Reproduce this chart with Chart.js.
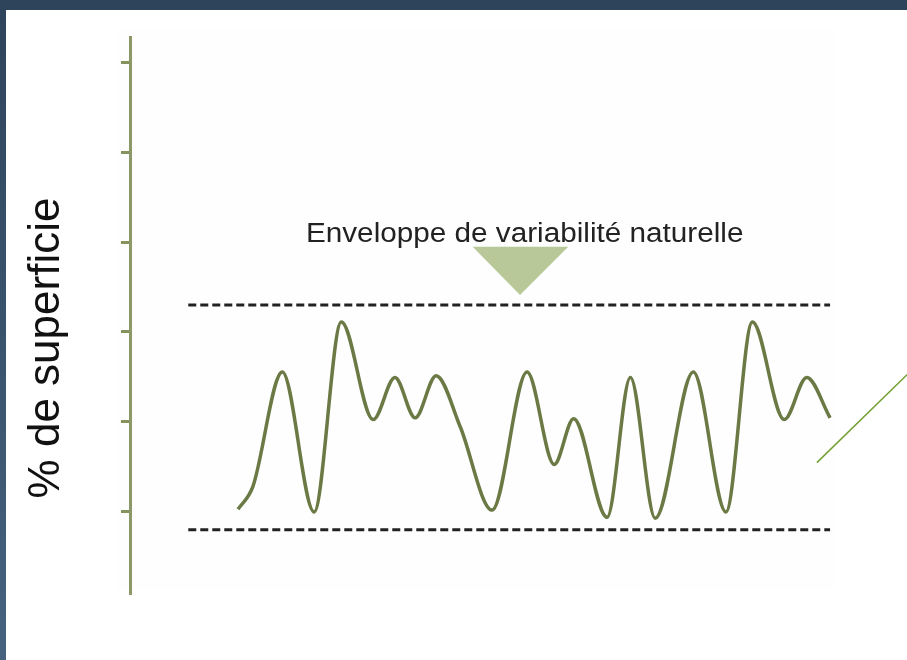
<!DOCTYPE html>
<html>
<head>
<meta charset="utf-8">
<script src="https://cdn.jsdelivr.net/npm/chart.js@4.4.1/dist/chart.umd.min.js"></script>
<style>
  html, body { margin: 0; padding: 0; background: #fff; }
  #wrap { position: relative; width: 907px; height: 660px; overflow: hidden; }
  #plotBg { position: absolute; left: 116px; top: 30px; width: 718px; height: 560px; background: #fefefe; }
  #frameTop { position: absolute; left: 0; top: 0; width: 907px; height: 10px; background: #2e445b; }
  #frameLeft { position: absolute; left: 0; top: 0; width: 6px; height: 660px; background: linear-gradient(#2e445b, #46627f); }
  canvas { position: absolute; left: 0; top: 0; }
</style>
</head>
<body>
<div id="wrap">
  <div id="plotBg"></div>
  <canvas id="chart" width="907" height="660"></canvas>
  <div id="frameTop"></div>
  <div id="frameLeft"></div>
</div>
<script>
  // y axis: tick marks only, no labels
  const yTicks = [1, 2, 3, 4, 5, 6];
  const yTitle = '% de superficie';

  // the fluctuating % of area over time (peaks and troughs)
  const waveX = [13.9, 15.8, 19.6, 23.7, 27.2, 31.3, 34.1, 36.7, 39.4, 42.5, 46.6, 51.1, 54.6, 57.1, 61.4, 64.4, 67.6, 72.5, 76.7, 80.1, 84.2, 87.1, 90.1];
  const waveY = [1.02, 1.27, 2.55, 0.99, 3.11, 2.02, 2.49, 2.04, 2.51, 1.94, 1.01, 2.55, 1.52, 2.03, 0.93, 2.49, 0.92, 2.55, 0.99, 3.11, 2.02, 2.49, 2.04];

  // natural variability envelope (dashed limits)
  const envelopeX = [7.5, 90.1];
  const envelopeTop = [3.30, 3.30];
  const envelopeBottom = [0.79, 0.79];

  // arrow + label above the envelope
  const arrowX = [44.1, 56.4, 50.2];
  const arrowY = [3.95, 3.95, 3.41];
  const labelText = 'Enveloppe de variabilité naturelle';
  const labelX = 50.8;
  const labelY = 4.0;

  // thin callout line on the right
  const pointerX = [88.4, 100];
  const pointerY = [1.54, 2.52];

  const pts = (xs, ys) => xs.map((x, i) => ({ x: x, y: ys[i] }));

  const textPlugin = {
    id: 'texts',
    afterDatasetsDraw(chart) {
      const ctx = chart.ctx;
      const xs = chart.scales.x, ys = chart.scales.y;
      ctx.save();
      // label is a bit wide for its height in the original, stretch it slightly
      ctx.translate(xs.getPixelForValue(labelX), ys.getPixelForValue(labelY));
      ctx.scale(1.1, 1);
      ctx.fillStyle = '#222';
      ctx.font = '27px "Liberation Sans", Arial, sans-serif';
      ctx.textAlign = 'center';
      ctx.textBaseline = 'alphabetic';
      ctx.fillText(labelText, 0, 0);
      ctx.restore();

      // rotated axis title
      ctx.save();
      ctx.translate(47, 348);
      ctx.rotate(-Math.PI / 2);
      ctx.fillStyle = '#111';
      ctx.font = '44px "Liberation Sans", Arial, sans-serif';
      ctx.textAlign = 'center';
      ctx.textBaseline = 'middle';
      ctx.fillText(yTitle, 0, 0);
      ctx.restore();
    }
  };

  new Chart(document.getElementById('chart').getContext('2d'), {
    type: 'line',
    data: {
      datasets: [
        {
          data: pts(waveX, waveY),
          borderColor: '#6b7944',
          borderWidth: 3.5,
          cubicInterpolationMode: 'monotone',
          pointRadius: 0,
          fill: false
        },
        {
          data: pts(envelopeX, envelopeTop),
          borderColor: '#222',
          borderWidth: 3,
          borderDash: [8, 4],
          pointRadius: 0,
          fill: false
        },
        {
          data: pts(envelopeX, envelopeBottom),
          borderColor: '#222',
          borderWidth: 3,
          borderDash: [8, 4],
          pointRadius: 0,
          fill: false
        },
        {
          data: pts(arrowX, arrowY),
          borderWidth: 0,
          borderColor: 'rgba(0,0,0,0)',
          backgroundColor: '#b9c898',
          pointRadius: 0,
          tension: 0,
          fill: 'shape'
        },
        {
          data: pts(pointerX, pointerY),
          borderColor: '#74a034',
          borderWidth: 1.5,
          pointRadius: 0,
          fill: false
        }
      ]
    },
    options: {
      responsive: false,
      animation: false,
      events: [],
      layout: { padding: { left: 6, top: 37, right: 0, bottom: 67 } },
      plugins: {
        legend: { display: false },
        tooltip: { enabled: false }
      },
      scales: {
        x: { type: 'linear', min: 0, max: 100, display: false },
        y: {
          min: 0.085,
          max: 6.29,
          afterBuildTicks: (scale) => { scale.ticks = yTicks.map(v => ({ value: v })); },
          afterFit: (scale) => { scale.width = 124; },
          ticks: { display: false },
          grid: { drawOnChartArea: false, drawTicks: true, tickLength: 9, color: '#87935f', lineWidth: 3 },
          border: { display: true, color: '#8c9867', width: 3 }
        }
      }
    },
    plugins: [textPlugin]
  });
</script>
</body>
</html>
